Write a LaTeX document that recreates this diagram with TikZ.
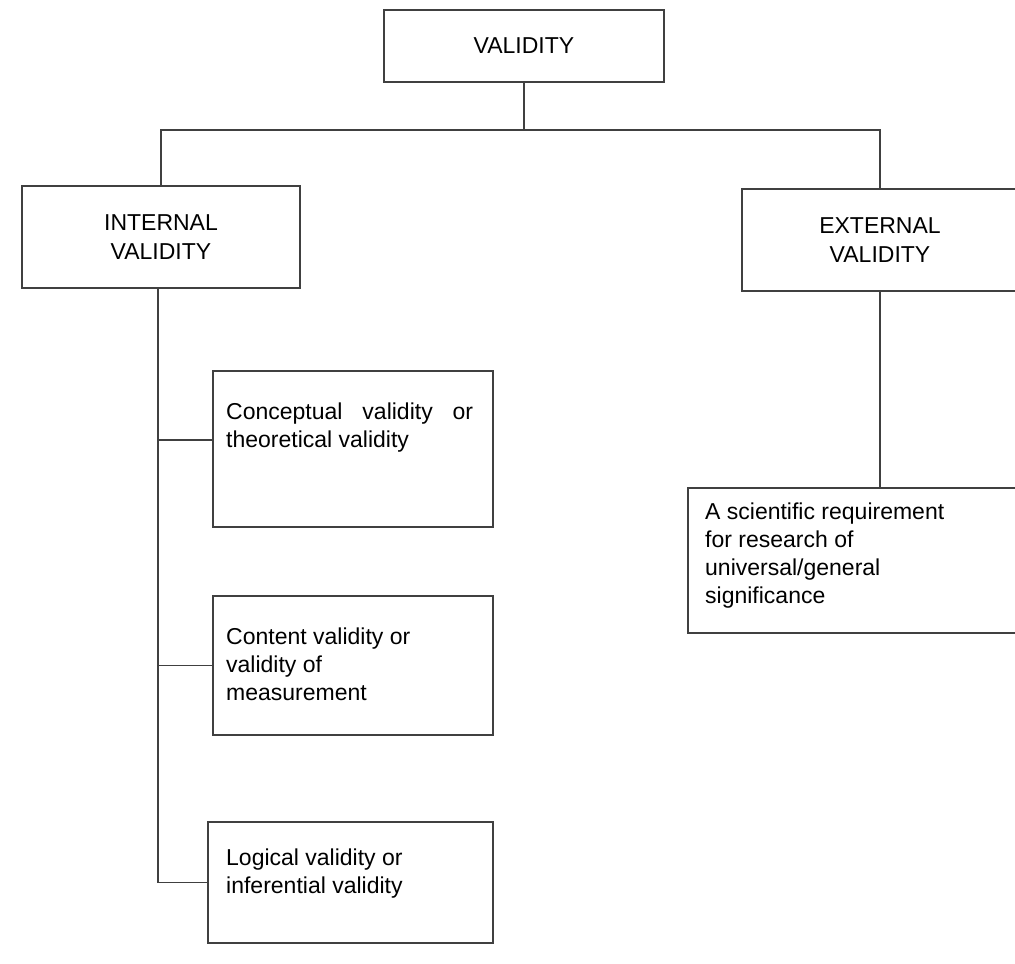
\documentclass[tikz,border=0pt]{standalone}
\usepackage{fontspec}
\setmainfont{Liberation Sans}
\begin{document}
\begin{tikzpicture}[x=1pt,y=-1pt,
  box/.style={draw=black!75, line width=1.2pt, inner sep=0pt},
  head/.style={box, align=center, font=\fontsize{23}{29}\selectfont},
  body/.style={anchor=north west, inner sep=0pt, align=left, font=\fontsize{23}{28}\selectfont},
  link/.style={draw=black!75, line width=1.2pt}]
\useasboundingbox (0,0) rectangle (1015,964);
\fill[white] (0,0) rectangle (1015,964);

% headings
\node[head, minimum width=280pt, minimum height=72pt] (val) at (524,46) {VALIDITY};
\node[head, minimum width=278pt, minimum height=102pt] (int) at (161,237) {INTERNAL\\VALIDITY};
\node[head, minimum width=276pt, minimum height=102pt] (ext) at (880,240) {EXTERNAL\\VALIDITY};

% kinds of internal validity
\node[box, minimum width=280pt, minimum height=156pt] (b1) at (353,449) {};
\node[box, minimum width=280pt, minimum height=139pt] (b2) at (353,665.5) {};
\node[box, minimum width=285pt, minimum height=121pt] (b3) at (350.5,882.5) {};
\node[body] (t1) at (226,403) {\hbox to 247pt{Conceptual\hfill validity\hfill or}\\theoretical validity};
\node[body] (t2) at (226,628) {Content validity or\\validity of\\measurement};
\node[body] (t3) at (226,849) {Logical validity or\\inferential validity};

% external validity description
\node[box, minimum width=342pt, minimum height=145pt] (e1) at (859,560.5) {};
\node[body] (te) at (705,503) {A scientific requirement\\for research of\\universal/general\\significance};

% tree connectors
\coordinate (jm) at (524,130);
\coordinate (spine) at (158,288);
\draw[link] (val.south) -- (jm);
\draw[link] (jm) -| (int.north);
\draw[link] (jm) -| (ext.north);
\draw[link] (spine) |- (b3.west);
\draw[link] (spine |- b1.west) ++(0,-9) -- ([yshift=9pt]b1.west);
\draw[link] (spine |- b2.west) -- (b2.west);
\draw[link] (ext.south) -- (ext.south |- e1.north);
\end{tikzpicture}
\end{document}
